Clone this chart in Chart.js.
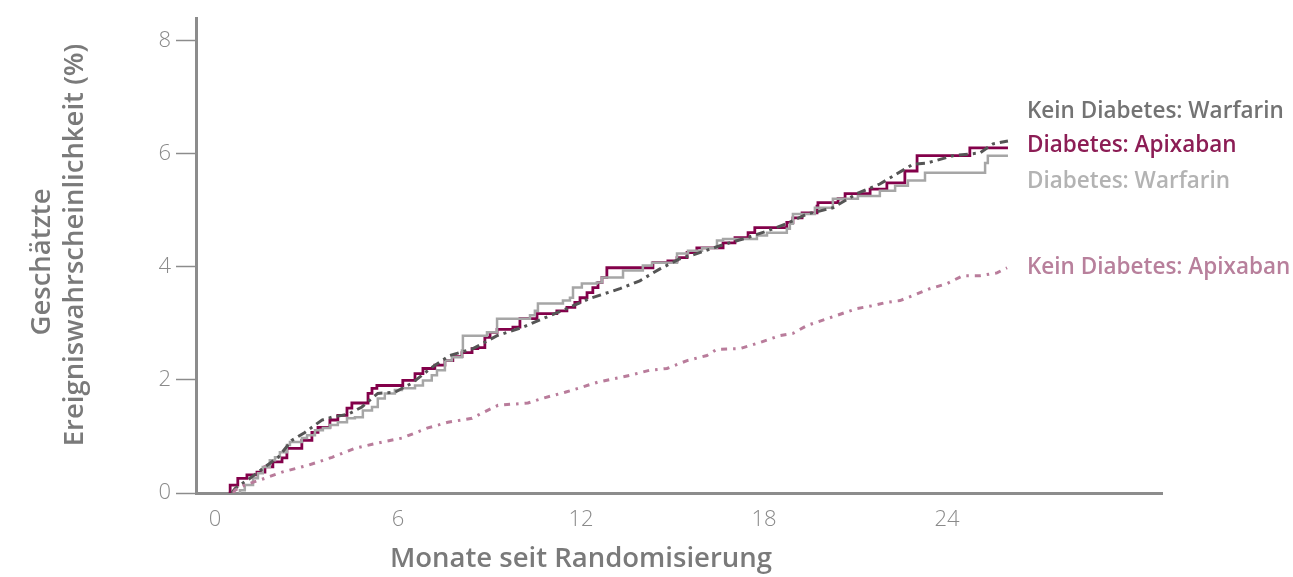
<!DOCTYPE html>
<html>
<head>
<meta charset="utf-8">
<script src="https://cdn.jsdelivr.net/npm/chart.js@4"></script>
<style>
  html, body { margin: 0; padding: 0; background: #fff; }
  #wrap { width: 1293px; height: 577px; position: relative; }
</style>
</head>
<body>
<div id="wrap"><canvas id="km_canvas"></canvas></div>
<script>
// Monate, geschätzte Ereigniswahrscheinlichkeit (%)
const x_ticks = [0, 6, 12, 18, 24];
const y_ticks = [0, 2, 4, 6, 8];

const kein_diab_warfarin = [
    [0.55,0],[0.66,0.08],[1.15,0.26],[1.64,0.46],[2.07,0.63],[2.52,0.93],[2.95,1.07],[3.51,1.29],
    [3.84,1.34],[4.36,1.39],[4.82,1.52],[5.34,1.76],[5.9,1.78],[6.46,1.94],[7.11,2.22],[7.7,2.43],
    [8.46,2.55],[9.25,2.78],[10.1,2.93],[10.75,3.08],[11.54,3.26],[12.3,3.44],[13.28,3.61],[13.93,3.75],
    [14.59,3.96],[15.25,4.14],[15.8,4.23],[16.56,4.37],[17.44,4.51],[18.1,4.63],[18.75,4.76],[19.41,4.93],
    [20.26,5.04],[21.05,5.29],[21.8,5.46],[22.36,5.64],[22.89,5.81],[23.34,5.83],[24.2,5.96],[25.08,6.01],
    [25.51,6.17],[26.0,6.22]
];

const diab_apixaban = [
    [0.45,0],[0.5,0.14],[0.75,0.26],[1.05,0.32],[1.38,0.37],[1.64,0.46],[1.9,0.55],[2.2,0.62],
    [2.36,0.79],[2.85,0.93],[3.18,1.07],[3.38,1.16],[3.77,1.29],[4.03,1.37],[4.33,1.5],[4.49,1.59],
    [5.02,1.76],[5.15,1.85],[5.31,1.9],[6.16,1.99],[6.56,2.11],[6.82,2.2],[7.21,2.26],[7.54,2.34],
    [7.8,2.41],[8.1,2.48],[8.43,2.55],[8.62,2.57],[8.85,2.75],[9.02,2.84],[9.25,2.89],[9.77,2.93],
    [10.0,3.08],[10.56,3.17],[11.21,3.22],[11.54,3.28],[11.8,3.37],[11.97,3.45],[12.2,3.54],[12.39,3.63],
    [12.56,3.72],[12.69,3.81],[12.85,3.98],[14.36,4.07],[14.85,4.1],[15.15,4.16],[15.48,4.25],[15.8,4.33],
    [16.66,4.42],[17.05,4.51],[17.48,4.6],[17.7,4.69],[18.75,4.78],[18.95,4.86],[19.25,4.95],[19.74,5.07],
    [19.77,5.13],[20.43,5.2],[20.66,5.29],[21.48,5.37],[22.03,5.48],[22.62,5.69],[23.02,5.96],[24.75,6.1],
    [26.0,6.1]
];

const diab_warfarin = [
    [0.8,0],[0.82,0.05],[0.98,0.14],[1.25,0.26],[1.41,0.35],[1.57,0.46],[1.8,0.58],[1.97,0.63],
    [2.13,0.72],[2.36,0.85],[2.46,0.9],[2.85,0.97],[3.02,1.02],[3.28,1.11],[3.54,1.15],[3.77,1.2],
    [4.03,1.25],[4.33,1.32],[4.59,1.34],[4.85,1.46],[5.15,1.52],[5.34,1.67],[5.57,1.76],[5.9,1.82],
    [6.13,1.85],[6.56,1.9],[6.82,1.99],[7.11,2.08],[7.28,2.17],[7.54,2.34],[7.77,2.4],[8.1,2.52],
    [8.13,2.78],[8.92,2.84],[9.25,3.08],[10.33,3.14],[10.49,3.22],[10.59,3.35],[11.41,3.4],[11.64,3.45],
    [11.74,3.63],[12.03,3.7],[12.52,3.72],[12.69,3.81],[13.38,3.93],[14.03,4.02],[14.33,4.07],[15.15,4.23],
    [15.51,4.28],[15.97,4.33],[16.46,4.46],[16.66,4.49],[17.77,4.55],[18.1,4.6],[18.75,4.67],[18.85,4.76],
    [18.95,4.93],[19.67,5.04],[20.26,5.2],[21.08,5.25],[21.8,5.34],[22.3,5.43],[22.72,5.52],[23.28,5.66],
    [25.25,5.83],[25.34,5.96],[26.0,5.96]
];

const kein_diab_apixaban = [
    [0.6,0],[0.66,0.05],[0.98,0.14],[1.64,0.26],[2.2,0.37],[3.05,0.49],[3.84,0.63],[4.59,0.79],
    [5.48,0.9],[6.13,0.97],[6.98,1.15],[7.64,1.25],[8.43,1.32],[8.75,1.41],[9.28,1.55],[10.26,1.59],
    [10.72,1.67],[11.48,1.78],[12.03,1.87],[12.56,1.96],[13.61,2.08],[14.26,2.17],[14.82,2.2],[15.48,2.34],
    [16.13,2.43],[16.46,2.54],[17.21,2.55],[17.87,2.66],[18.52,2.78],[18.95,2.82],[19.41,2.96],[20.07,3.08],
    [21.05,3.26],[21.57,3.31],[22.03,3.37],[22.46,3.4],[22.89,3.49],[23.44,3.61],[24.0,3.7],[24.52,3.84],
    [25.08,3.84],[25.64,3.89],[25.97,3.98]
];

const series_names = [
    "Kein Diabetes: Warfarin",
    "Diabetes: Apixaban",
    "Diabetes: Warfarin",
    "Kein Diabetes: Apixaban"
];

const x_title = "Monate seit Randomisierung";
const y_title = ["Geschätzte", "Ereigniswahrscheinlichkeit (%)"];

const axis_color = "#8c8c8c";
const tick_color = "#8a8a8a";
const title_color = "#7a7a7a";
const font_family = "'Open Sans', 'DejaVu Sans', sans-serif";

document.addEventListener("DOMContentLoaded", ()=>{
    draw_chart(document.getElementById("km_canvas"));
});

function to_points(pairs){
    return pairs.map(p => ({x: p[0], y: p[1]}));
}

function km_dataset(label, pairs, color, width, dash, stepped){
    return {
        label: label,
        data: to_points(pairs),
        borderColor: color,
        borderWidth: width,
        borderDash: dash,
        stepped: stepped,
        pointRadius: 0,
        fill: false,
        tension: 0
    };
}

// Achsentitel und Serienbeschriftungen rechts
const text_plugin = {
    id: "texts",
    afterDraw(chart){
        let ctx = chart.ctx;
        let xs = chart.scales.x;
        let area = chart.chartArea;
        ctx.save();
        ctx.fillStyle = title_color;
        ctx.font = "600 27.5px " + font_family;
        ctx.textAlign = "center";
        ctx.textBaseline = "middle";
        ctx.fillText(x_title, xs.getPixelForValue(12), 559);

        ctx.save();
        ctx.translate(42, 262);
        ctx.rotate(-Math.PI / 2);
        ctx.fillText(y_title[0], 0, 0);
        ctx.restore();
        ctx.save();
        ctx.translate(75, 245);
        ctx.rotate(-Math.PI / 2);
        ctx.fillText(y_title[1], 0, 0);
        ctx.restore();

        let label_colors = ["#737373", "#8c1d55", "#b3b3b3", "#b8809c"];
        let label_y = [112, 146, 182, 268];
        ctx.font = "600 22.5px " + font_family;
        ctx.textAlign = "left";
        for(let i = 0; i < series_names.length; i++){
            ctx.fillStyle = label_colors[i];
            ctx.fillText(series_names[i], area.right - 135, label_y[i]);
        }
        ctx.restore();
    }
};

function draw_chart(canvas){
    let datasets = [
        km_dataset(series_names[3], kein_diab_apixaban, "#b97c9b", 3, [6, 6, 2.5, 6], false),
        km_dataset(series_names[0], kein_diab_warfarin, "#555555", 3, [9, 5, 3, 5], false),
        km_dataset(series_names[2], diab_warfarin, "#a6a6a6", 2.5, [], true),
        km_dataset(series_names[1], diab_apixaban, "#83004a", 2.8, [], true)
    ];

    return new Chart(canvas, {
        type: "line",
        data: { datasets: datasets },
        plugins: [text_plugin],
        options: {
            responsive: true,
            maintainAspectRatio: false,
            animation: false,
            layout: { padding: { top: 17, right: 131, left: 0, bottom: 0 } },
            plugins: {
                legend: { display: false },
                tooltip: { enabled: false }
            },
            scales: {
                x: {
                    type: "linear",
                    min: -0.62,
                    max: 31.05,
                    afterBuildTicks: s => { s.ticks = x_ticks.map(v => ({value: v})); },
                    afterFit: s => { s.height = 84; },
                    border: { color: axis_color, width: 3 },
                    grid: { drawOnChartArea: false, drawTicks: false },
                    ticks: {
                        color: tick_color,
                        padding: 14,
                        font: { family: font_family, size: 22, weight: 300 }
                    }
                },
                y: {
                    type: "linear",
                    min: 0,
                    max: 8.39,
                    afterBuildTicks: s => { s.ticks = y_ticks.map(v => ({value: v})); },
                    afterFit: s => { s.width = 196; },
                    border: { color: axis_color, width: 3 },
                    grid: { drawOnChartArea: false, drawTicks: true, tickLength: 20, tickColor: axis_color, tickWidth: 1.5 },
                    ticks: {
                        color: tick_color,
                        padding: 5,
                        font: { family: font_family, size: 22, weight: 300 }
                    }
                }
            }
        }
    });
}
</script>
</body>
</html>
